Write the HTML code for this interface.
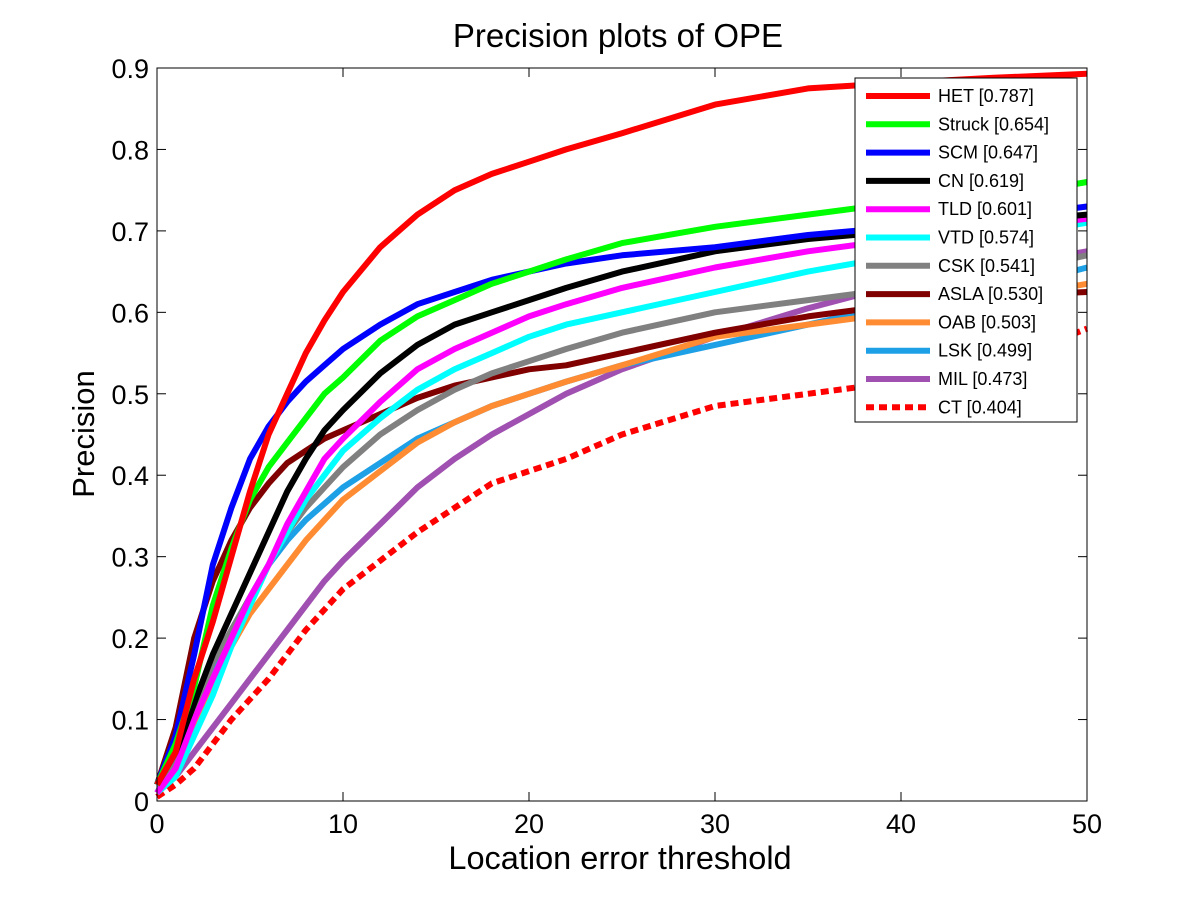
<!DOCTYPE html>
<html><head><meta charset="utf-8"><style>
body{margin:0;background:#fff;}
svg text{font-family:"Liberation Sans",Arial,sans-serif;}
</style></head><body>
<svg id="chart" width="1200" height="900" xmlns="http://www.w3.org/2000/svg">
<rect width="1200" height="900" fill="#fff"/>
<g id="plot"></g>
</svg>
<script>
const xs=[0,1,2,3,4,5,6,7,8,9,10,12,14,16,18,20,22,25,30,35,40,45,50];
const names=["HET [0.787]","Struck [0.654]","SCM [0.647]","CN [0.619]","TLD [0.601]","VTD [0.574]","CSK [0.541]","ASLA [0.530]","OAB [0.503]","LSK [0.499]","MIL [0.473]","CT [0.404]"];
const colors=["#ff0000","#00ff00","#0000ff","#000000","#ff00ff","#00ffff","#808080","#800000","#ff8c33","#1ea0e6","#a050b0","#ff0000"];
const HET=[0.02,0.06,0.15,0.22,0.30,0.38,0.45,0.50,0.55,0.59,0.625,0.68,0.72,0.75,0.77,0.785,0.80,0.82,0.855,0.875,0.882,0.888,0.893];
const Struck=[0.02,0.07,0.14,0.24,0.31,0.37,0.41,0.44,0.47,0.50,0.52,0.565,0.595,0.615,0.635,0.65,0.665,0.685,0.705,0.72,0.735,0.74,0.76];
const SCM=[0.02,0.08,0.18,0.29,0.36,0.42,0.46,0.49,0.515,0.535,0.555,0.585,0.61,0.625,0.64,0.65,0.66,0.67,0.68,0.695,0.705,0.715,0.73];
const CN=[0.02,0.06,0.12,0.18,0.23,0.28,0.33,0.38,0.42,0.455,0.48,0.525,0.56,0.585,0.60,0.615,0.63,0.65,0.675,0.69,0.70,0.71,0.72];
const TLD=[0.01,0.04,0.10,0.15,0.20,0.25,0.29,0.34,0.38,0.42,0.445,0.49,0.53,0.555,0.575,0.595,0.61,0.63,0.655,0.675,0.69,0.70,0.715];
const VTD=[0.01,0.03,0.08,0.13,0.19,0.24,0.29,0.33,0.37,0.40,0.43,0.47,0.505,0.53,0.55,0.57,0.585,0.60,0.625,0.65,0.67,0.69,0.71];
const CSK=[0.02,0.05,0.11,0.17,0.21,0.25,0.29,0.33,0.36,0.385,0.41,0.45,0.48,0.505,0.525,0.54,0.555,0.575,0.60,0.615,0.63,0.645,0.67];
const ASLA=[0.02,0.09,0.20,0.27,0.32,0.36,0.39,0.415,0.43,0.445,0.455,0.475,0.495,0.51,0.52,0.53,0.535,0.55,0.575,0.595,0.61,0.62,0.625];
const OAB=[0.01,0.04,0.09,0.14,0.19,0.23,0.26,0.29,0.32,0.345,0.37,0.405,0.44,0.465,0.485,0.50,0.515,0.535,0.57,0.585,0.60,0.615,0.635];
const LSK=[0.01,0.05,0.11,0.16,0.21,0.25,0.29,0.32,0.345,0.365,0.385,0.415,0.445,0.465,0.485,0.50,0.515,0.535,0.56,0.585,0.61,0.625,0.655];
const MIL=[0.01,0.03,0.06,0.09,0.12,0.15,0.18,0.21,0.24,0.27,0.295,0.34,0.385,0.42,0.45,0.475,0.50,0.53,0.57,0.605,0.635,0.655,0.675];
const CT=[0.005,0.02,0.04,0.07,0.10,0.125,0.15,0.18,0.21,0.235,0.26,0.295,0.33,0.36,0.39,0.405,0.42,0.45,0.485,0.50,0.515,0.535,0.58];
const series=[HET,Struck,SCM,CN,TLD,VTD,CSK,ASLA,OAB,LSK,MIL,CT];
const xTicks=[0,10,20,30,40,50];
const yTicks=[0,0.1,0.2,0.3,0.4,0.5,0.6,0.7,0.8,0.9];
const L=157,R=1087,T=68,B=801;
const X=v=>L+(v/50)*(R-L), Y=v=>B-(v/0.9)*(B-T);
const NS="http://www.w3.org/2000/svg";
const g=document.getElementById('plot');
function mk(t,a,txt){const e=document.createElementNS(NS,t);for(const k in a)e.setAttribute(k,a[k]);if(txt!==undefined)e.textContent=txt;g.appendChild(e);return e;}
for(let i=series.length-1;i>=0;i--){
 const d=series[i].map((v,j)=>(j?'L':'M')+X(xs[j]).toFixed(1)+','+Y(v).toFixed(1)).join('');
 const p=mk('path',{d:d,fill:'none',stroke:colors[i],'stroke-width':6,'stroke-linejoin':'round'});
 if(i==11)p.setAttribute('stroke-dasharray','8,5');
 
 
}
const box=mk('rect',{x:L,y:T,width:R-L,height:B-T,fill:'none',stroke:'#000','stroke-width':1});


xTicks.forEach(v=>{
 mk('line',{x1:X(v),x2:X(v),y1:B,y2:B-9,stroke:'#000'});
 mk('line',{x1:X(v),x2:X(v),y1:T,y2:T+9,stroke:'#000'});
 const t=mk('text',{x:X(v),y:833,'font-size':27,'text-anchor':'middle'},v);
 
 
});
yTicks.forEach(v=>{
 mk('line',{x1:L,x2:L+9,y1:Y(v),y2:Y(v),stroke:'#000'});
 mk('line',{x1:R,x2:R-9,y1:Y(v),y2:Y(v),stroke:'#000'});
 const t=mk('text',{x:149,y:Y(v)+10,'font-size':27,'text-anchor':'end'},v===0?'0':v.toFixed(1));
 
 
});
let t=mk('text',{x:618,y:47,'font-size':33,'text-anchor':'middle'},'Precision plots of OPE');


t=mk('text',{x:620,y:869,'font-size':32.5,'text-anchor':'middle'},'Location error threshold');


t=mk('text',{x:94,y:434,'font-size':31,'text-anchor':'middle',transform:'rotate(-90 94 434)'},'Precision');


const lg=mk('rect',{x:855,y:78,width:222,height:344,fill:'#fff',stroke:'#000','stroke-width':1});


names.forEach((n,i)=>{
 const y=96+i*28.3;
 const l=mk('line',{x1:866,x2:930,y1:y,y2:y,stroke:colors[i],'stroke-width':6});
 if(i==11)l.setAttribute('stroke-dasharray','8,5');
 const tt=mk('text',{x:938,y:y+6,'font-size':18},n);
 
 
});
</script>
</body></html>
